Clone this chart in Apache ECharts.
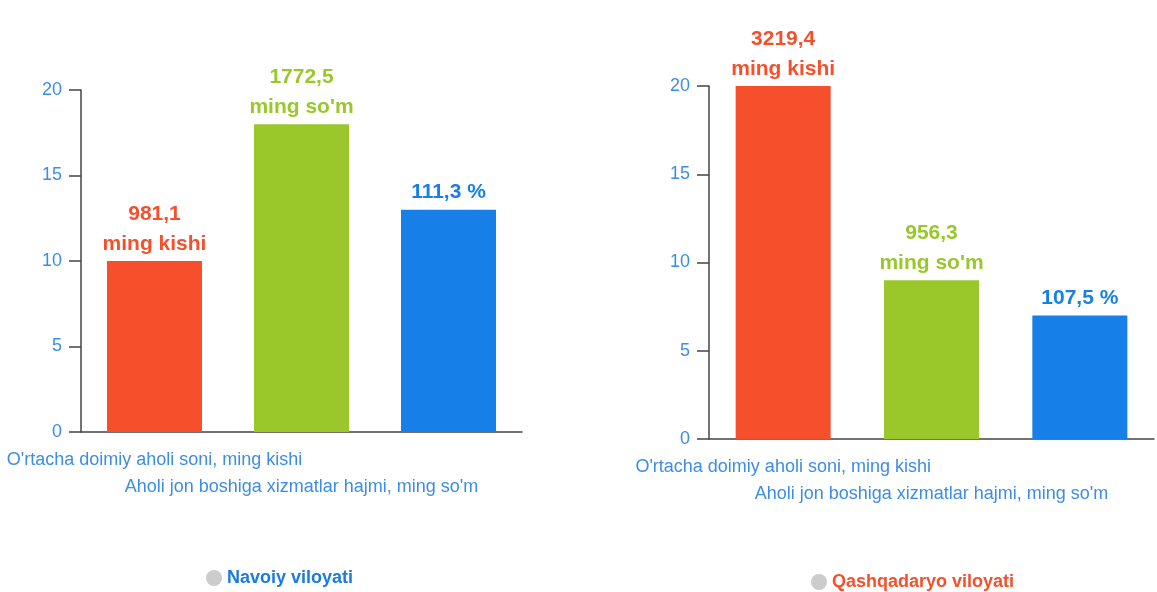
<!DOCTYPE html>
<html>
<head>
<meta charset="utf-8">
<script src="https://cdn.jsdelivr.net/npm/echarts@6/dist/echarts.min.js"></script>
<style>
html, body { margin: 0; padding: 0; background: #fff; }
#chart { width: 1157px; height: 592px; }
</style>
</head>
<body>
<div id="chart"></div>
<script>
// categories (third one has no caption in the source)
var categories = ["O'rtacha doimiy aholi soni, ming kishi", "Aholi jon boshiga xizmatlar hajmi, ming so'm", ""];
var yTicks = [0, 5, 10, 15, 20];

var navoiyName = 'Navoiy viloyati';
var navoiyValues = [10, 18, 13];
var navoiyLabels = ['981,1\nming kishi', "1772,5\nming so'm", '111,3 %'];

var qashqaName = 'Qashqadaryo viloyati';
var qashqaValues = [20, 9, 7];
var qashqaLabels = ['3219,4\nming kishi', "956,3\nming so'm", '107,5 %'];

var barColors = ['#f64f2c', '#9ac72a', '#1680e8'];
var font = "'Liberation Sans', Arial, sans-serif";

function buildData(values, labels) {
	return values.map(function (v, i) {
		return {
			value: v,
			itemStyle: { color: barColors[i] },
			label: { formatter: labels[i], color: barColors[i] }
		};
	});
}

function xAxisFor(gridIndex) {
	return {
		type: 'category',
		gridIndex: gridIndex,
		data: categories,
		axisLine: { lineStyle: { color: '#444', width: 1.5 } },
		axisTick: { alignWithLabel: true, length: 16, lineStyle: { color: '#444', width: 1.5 } },
		axisLabel: {
			interval: 0,
			margin: 15,
			color: '#3d8de6',
			fontFamily: font,
			fontSize: 18,
			lineHeight: 27,
			formatter: function (v, i) { return i % 2 ? '\n' + v : v; }
		}
	};
}

function yAxisFor(gridIndex) {
	return {
		type: 'value',
		gridIndex: gridIndex,
		min: yTicks[0],
		max: yTicks[yTicks.length - 1],
		interval: yTicks[1] - yTicks[0],
		splitLine: { show: false },
		axisLine: { show: true, lineStyle: { color: '#444', width: 1.5 } },
		axisTick: { show: true, length: 12, lineStyle: { color: '#444', width: 1.5 } },
		axisLabel: { margin: 19, color: '#3d8de6', fontFamily: font, fontSize: 18 }
	};
}

function seriesFor(name, idx, values, labels) {
	return {
		name: name,
		type: 'bar',
		xAxisIndex: idx,
		yAxisIndex: idx,
		barWidth: 95,
		itemStyle: { color: '#cccccc' },
		label: {
			show: true,
			position: 'top',
			distance: 2,
			fontFamily: font,
			fontWeight: 'bold',
			fontSize: 21,
			lineHeight: 30
		},
		data: buildData(values, labels)
	};
}

var chart = echarts.init(document.getElementById('chart'));
var option = {
	animation: false,
	grid: [
		{ left: 81, top: 90, width: 441, height: 342, outerBoundsMode: 'none', containLabel: false },
		{ left: 709, top: 86, width: 445, height: 353, outerBoundsMode: 'none', containLabel: false }
	],
	legend: [
		{
			data: [navoiyName], left: 201, top: 564, icon: 'circle',
			itemWidth: 16, itemHeight: 16, itemGap: 6,
			textStyle: { color: '#1a7be2', fontWeight: 'bold', fontSize: 18, fontFamily: font }
		},
		{
			data: [qashqaName], left: 806, top: 568, icon: 'circle',
			itemWidth: 16, itemHeight: 16, itemGap: 6,
			textStyle: { color: '#f4502a', fontWeight: 'bold', fontSize: 18, fontFamily: font }
		}
	],
	xAxis: [xAxisFor(0), xAxisFor(1)],
	yAxis: [yAxisFor(0), yAxisFor(1)],
	series: [
		seriesFor(navoiyName, 0, navoiyValues, navoiyLabels),
		seriesFor(qashqaName, 1, qashqaValues, qashqaLabels)
	]
};
chart.setOption(option);
</script>
</body>
</html>
